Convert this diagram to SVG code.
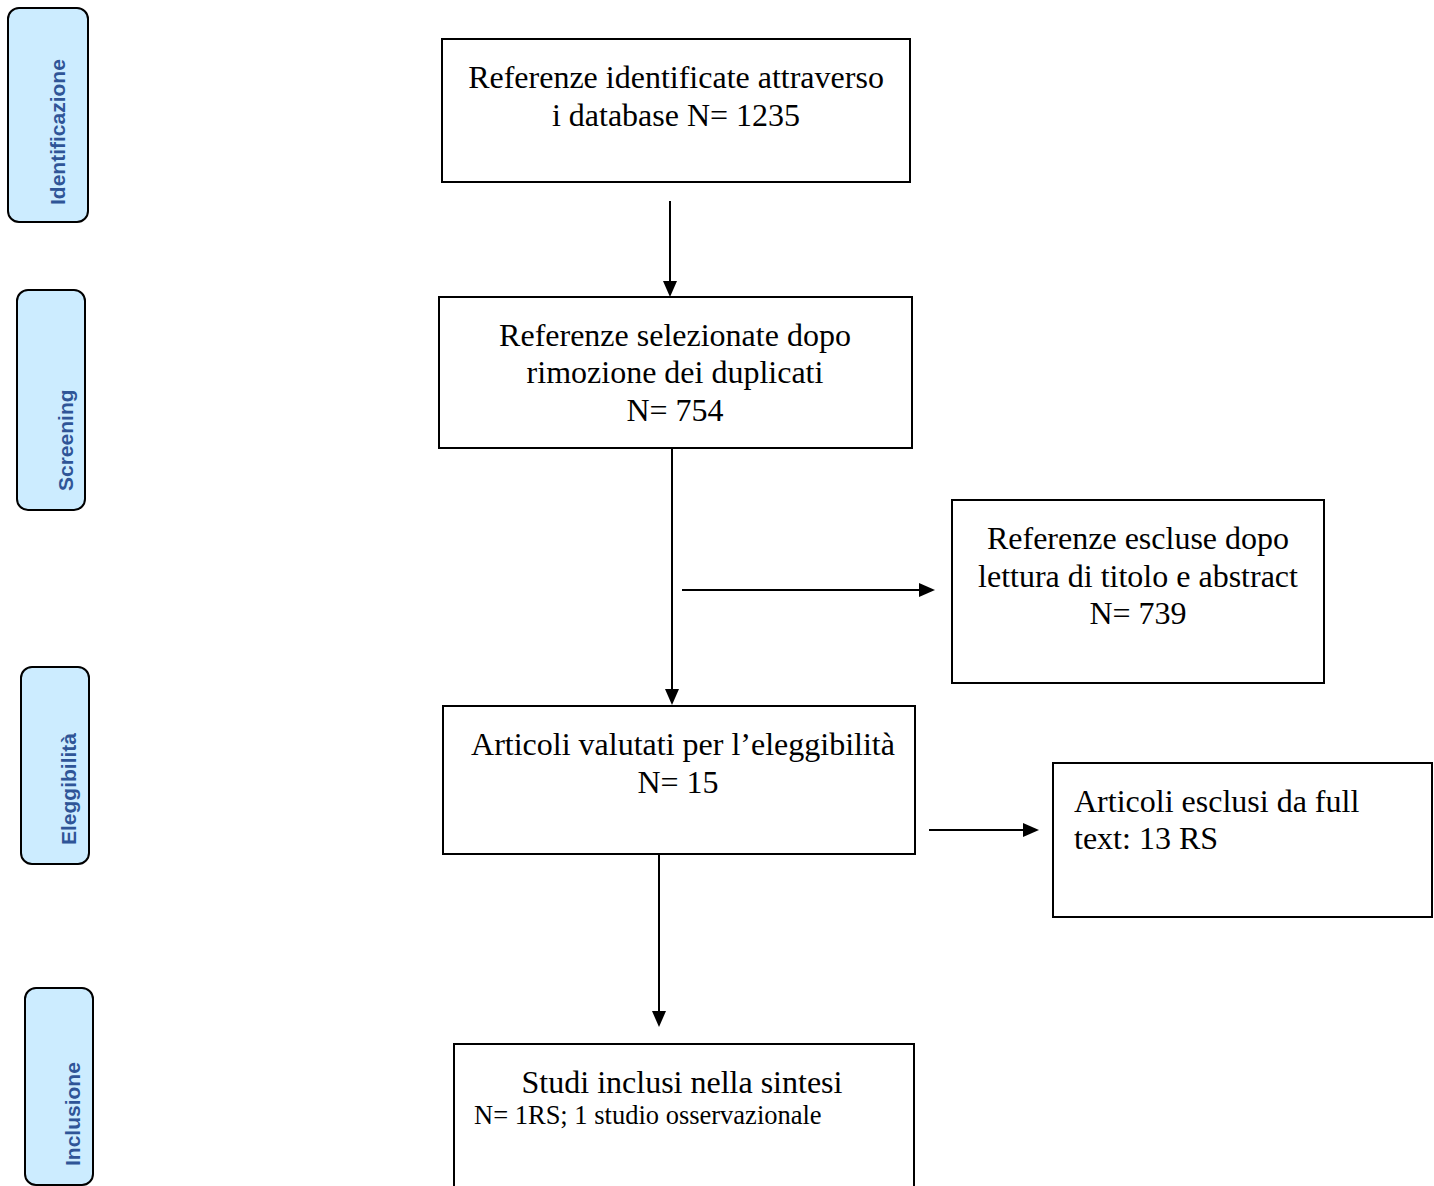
<svg xmlns="http://www.w3.org/2000/svg" width="1434" height="1186" viewBox="0 0 1434 1186">
<style>
.side rect{fill:#CCECFF;stroke:#000;stroke-width:2}
.side text{font-family:"Liberation Sans",Arial,sans-serif;font-weight:bold;font-size:21px;fill:#2F5597}
.box rect{fill:#fff;stroke:#000;stroke-width:2}
.box text{font-family:"Liberation Serif","Times New Roman",serif;font-size:32px;fill:#000}
.box text.c{text-anchor:middle}
.box text.s{font-size:26.5px}
.conn line{stroke:#000;stroke-width:2;fill:none}
</style>
<defs>
<marker id="ah" viewBox="0 0 16 14" refX="12" refY="7" markerWidth="16" markerHeight="14" markerUnits="userSpaceOnUse" orient="auto">
<path d="M0,0 L16,7 L0,14 Z" fill="#000"/>
</marker>
</defs>
<rect width="1434" height="1186" fill="#fff"/>

<g id="side-identificazione" class="side">
<rect x="8" y="8" width="80" height="214" rx="11"/>
<text x="65" y="205" transform="rotate(-90 65 205)">Identificazione</text>
</g>
<g id="side-screening" class="side">
<rect x="17" y="290" width="68" height="220" rx="11"/>
<text x="73" y="491" transform="rotate(-90 73 491)">Screening</text>
</g>
<g id="side-eleggibilita" class="side">
<rect x="21" y="667" width="68" height="197" rx="11"/>
<text x="76" y="845" transform="rotate(-90 76 845)">Eleggibilità</text>
</g>
<g id="side-inclusione" class="side">
<rect x="25" y="988" width="68" height="197" rx="11"/>
<text x="80" y="1166" transform="rotate(-90 80 1166)">Inclusione</text>
</g>

<g id="node-identificate" class="box">
<rect x="442" y="39" width="468" height="143"/>
<text class="c" x="676" y="88">Referenze identificate attraverso</text>
<text class="c" x="676" y="126">i database N= 1235</text>
</g>
<g id="node-selezionate" class="box">
<rect x="439" y="297" width="473" height="151"/>
<text class="c" x="675" y="346">Referenze selezionate dopo</text>
<text class="c" x="675" y="383">rimozione dei duplicati</text>
<text class="c" x="675" y="421">N= 754</text>
</g>
<g id="node-escluse" class="box">
<rect x="952" y="500" width="372" height="183"/>
<text class="c" x="1138" y="549">Referenze escluse dopo</text>
<text class="c" x="1138" y="587">lettura di titolo e abstract</text>
<text class="c" x="1138" y="624">N= 739</text>
</g>
<g id="node-eleggibilita" class="box">
<rect x="443" y="706" width="472" height="148"/>
<text class="c" x="683" y="755">Articoli valutati per l’eleggibilità</text>
<text class="c" x="678" y="793">N= 15</text>
</g>
<g id="node-esclusi" class="box">
<rect x="1053" y="763" width="379" height="154"/>
<text x="1074" y="812">Articoli esclusi da full</text>
<text x="1074" y="849">text: 13 RS</text>
</g>
<g id="node-inclusi" class="box">
<rect x="454" y="1044" width="460" height="150"/>
<text class="c" x="682" y="1093">Studi inclusi nella sintesi</text>
<text class="s" x="474" y="1124">N= 1RS; 1 studio osservazionale</text>
</g>

<g id="connectors" class="conn">
<line x1="670" y1="201" x2="670" y2="293" marker-end="url(#ah)"/>
<line x1="672" y1="448" x2="672" y2="701" marker-end="url(#ah)"/>
<line x1="682" y1="590" x2="931" y2="590" marker-end="url(#ah)"/>
<line x1="929" y1="830" x2="1035" y2="830" marker-end="url(#ah)"/>
<line x1="659" y1="854" x2="659" y2="1023" marker-end="url(#ah)"/>
</g>
</svg>
